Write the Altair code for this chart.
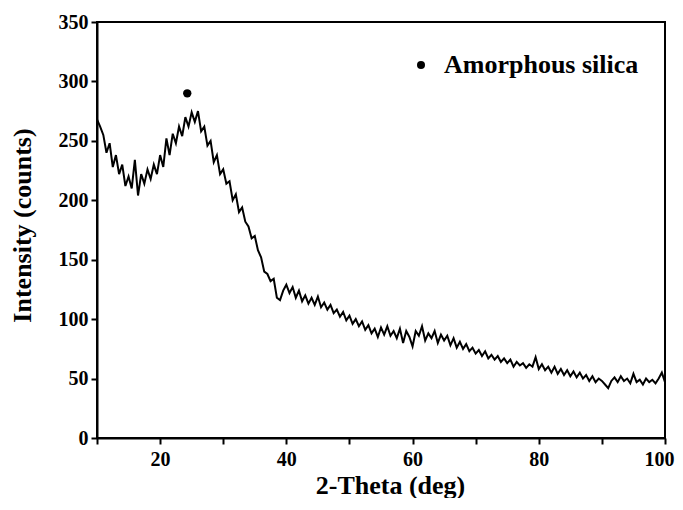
import altair as alt
import pandas as pd

# ---- data ----
theta_start = 10.0
theta_step = 0.5
intensity = [
    268, 262, 255, 240, 248, 228, 238, 222, 230, 212,   # 10.0 - 14.5
    220, 210, 234, 204, 222, 214, 226, 218, 230, 222,   # 15.0 - 19.5
    238, 228, 252, 238, 256, 248, 262, 254, 270, 262,   # 20.0 - 24.5
    274, 266, 275, 258, 262, 246, 250, 232, 238, 222,   # 25.0 - 29.5
    226, 214, 216, 200, 205, 190, 194, 182, 178, 168,   # 30.0 - 34.5
    170, 158, 152, 140, 138, 132, 134, 118, 116, 124,   # 35.0 - 39.5
    129, 122, 127, 118, 124, 115, 120, 113, 118, 112,   # 40.0 - 44.5
    119, 110, 114, 108, 112, 105, 108, 102, 106, 99,    # 45.0 - 49.5
    103, 96, 100, 94, 98, 91, 95, 88, 92, 85,           # 50.0 - 54.5
    93, 87, 94, 86, 90, 84, 92, 80, 90, 85,             # 55.0 - 59.5
    77, 90, 86, 94, 82, 88, 84, 90, 80, 87,             # 60.0 - 64.5
    82, 86, 78, 84, 76, 81, 75, 79, 73, 76,             # 65.0 - 69.5
    71, 74, 69, 73, 67, 70, 66, 69, 64, 67,             # 70.0 - 74.5
    63, 66, 60, 64, 61, 63, 59, 62, 60, 68,             # 75.0 - 79.5
    58, 62, 57, 60, 55, 60, 54, 58, 53, 57,             # 80.0 - 84.5
    52, 56, 51, 55, 50, 53, 48, 52, 47, 50,             # 85.0 - 89.5
    48, 45, 42, 48, 51, 47, 52, 48, 50, 46,             # 90.0 - 94.5
    54, 47, 49, 45, 50, 47, 49, 46, 50, 55,             # 95.0 - 99.5
    47,                                                 # 100.0
]
two_theta = [theta_start + theta_step * i for i in range(len(intensity))]

peak_theta = [24.3]
peak_intensity = [290]
peak_phase = ["Amorphous silica"]

x_ticks = [10, 20, 30, 40, 50, 60, 70, 80, 90, 100]
y_ticks = [0, 25, 50, 75, 100, 125, 150, 175, 200, 225, 250, 275, 300, 325, 350]

df = pd.DataFrame({"theta": two_theta, "intensity": intensity})
df_peak = pd.DataFrame({"theta": peak_theta, "intensity": peak_intensity, "phase": peak_phase})

FONT = "Liberation Serif"

x_enc = alt.X(
    "theta:Q",
    title="2-Theta (deg)",
    scale=alt.Scale(domain=[10, 100], nice=False, zero=False),
    axis=alt.Axis(
        values=x_ticks,
        labelExpr="datum.value % 20 == 0 ? datum.label : ''",
        labelFlush=True,
        labelFlushOffset=9,
        labelBound=False,
        labelOverlap=False,
        labelPadding=5,
        titleX=293,
        titleY=55,
        titleBaseline="alphabetic",
        titleAlign="center",
    ),
)
y_enc = alt.Y(
    "intensity:Q",
    title="Intensity (counts)",
    scale=alt.Scale(domain=[0, 350], nice=False),
    axis=alt.Axis(
        values=y_ticks,
        labelExpr="datum.value % 50 == 0 ? datum.label : ''",
        labelOverlap=False,
        labelFlush=False,
        labelPadding=3,
        titleX=-75,
        titleY=203,
        titleAngle=270,
        titleBaseline="middle",
        titleAlign="center",
    ),
)

line = alt.Chart(df).mark_line(color="black", strokeWidth=2).encode(x=x_enc, y=y_enc)

points = alt.Chart(df_peak).mark_point(filled=True, size=70, opacity=1, shape="circle").encode(
    x="theta:Q",
    y="intensity:Q",
    color=alt.Color(
        "phase:N",
        scale=alt.Scale(range=["black"]),
        legend=alt.Legend(
            title=None,
            orient="none",
            legendX=311,
            legendY=30,
            padding=0,
            labelFont=FONT,
            labelFontWeight="bold",
            labelFontSize=26,
            labelColor="black",
            labelOffset=10,
            labelLimit=0,
            symbolType="circle",
            symbolSize=64,
            symbolStrokeWidth=0,
            symbolFillColor="black",
        ),
    ),
)

chart = (
    alt.layer(line, points)
    .properties(
        width=568,
        height=416,
        autosize=alt.AutoSizeParams(type="none"),
        padding={"left": 89, "top": 14, "right": 10, "bottom": 60},
        background="white",
    )
    .configure_view(stroke="black", strokeWidth=2)
    .configure_axis(
        grid=False,
        domainColor="black",
        domainWidth=2,
        tickColor="black",
        tickWidth=2,
        tickSize=6,
        labelFont=FONT,
        labelFontWeight="bold",
        labelFontSize=20,
        labelColor="black",
        titleFont=FONT,
        titleFontWeight="bold",
        titleFontSize=26,
        titleColor="black",
    )
)

chart.save("out.html", embed_options={"renderer": "svg", "actions": False})
